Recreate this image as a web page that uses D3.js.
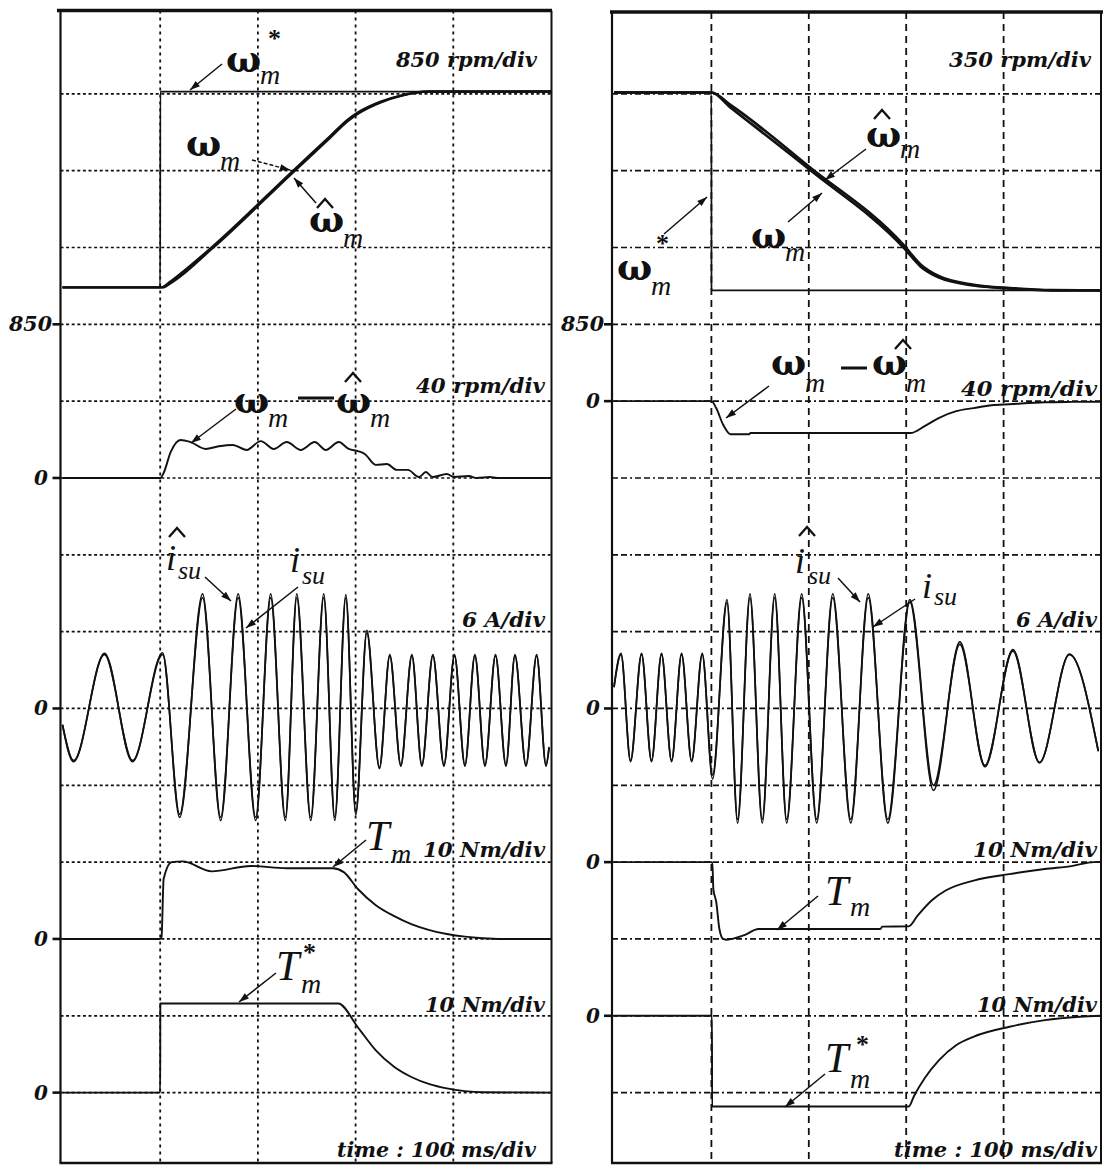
<!DOCTYPE html>
<html>
<head>
<meta charset="utf-8">
<title>Speed, speed error, stator current and torque responses</title>
<script src="https://cdn.jsdelivr.net/npm/d3@7/dist/d3.min.js"></script>
<style>
  html, body { margin: 0; padding: 0; background: #fff; }
  svg { display: block; }
  .scale-label, .tick-label { font-family: "DejaVu Serif", serif; font-weight: bold; font-style: italic; fill: #111; }
  .sym { font-family: "Liberation Serif", "Times New Roman", serif; font-style: italic; fill: #111; }
  .omega { font-family: "DejaVu Serif", serif; font-weight: bold; fill: #111; }
  .star { font-family: "Liberation Serif", serif; font-weight: bold; fill: #111; }
</style>
</head>
<body>
<svg id="fig" width="1103" height="1167" viewBox="0 0 1103 1167"></svg>
<script>
// ---------------------------------------------------------------
// Time base: 100 ms per division, five divisions per panel
// ---------------------------------------------------------------
const timeDomain = [0, 500];
const timeGrid = [100, 200, 300, 400];
const gridRows = [1, 2, 3, 4, 5, 6, 7, 8, 9, 10, 11, 12, 13, 14];

// Trace groups, top to bottom: speed, speed error, phase current, torque, torque command
const scaleLabelsL = ["850 rpm/div", "40 rpm/div", "6 A/div", "10 Nm/div", "10 Nm/div"];
const scaleLabelsR = ["350 rpm/div", "40 rpm/div", "6 A/div", "10 Nm/div", "10 Nm/div"];
const timeLabel = "time : 100 ms/div";
const perDivL = [850, 40, 6, 10, 10];
const perDivR = [350, 40, 6, 10, 10];
const refValues = [850, 0, 0, 0, 0];
const tickLabels = ["850", "0", "0", "0", "0"];
// grid row (divisions from the top edge) holding each reference level
const refRowsL = [4, 6, 9, 12, 14];
const refRowsR = [4, 5, 9, 11, 13];

// ---------------- Left panel: acceleration ----------------
// [time ms, rpm]
const speedRefL = [[0, 1259], [100, 1259], [100.1, 3425], [500, 3425]];
const speedL = [[0, 1259], [100, 1259], [102.5, 1262], [110.7, 1325], [152.7, 1701], [234.6, 2535],
  [274.6, 2938], [292, 3115], [302.3, 3193], [325.8, 3314], [346.3, 3380], [374.5, 3425], [500, 3425]];
const speedEstL = [[0, 1259], [100, 1259], [102.5, 1259], [110.7, 1306], [152.7, 1684], [234.6, 2518],
  [274.6, 2921], [292, 3098], [302.3, 3179], [325.8, 3306], [346.3, 3377], [374.5, 3424], [500, 3425]];
// [time ms, rpm]
const speedErrL = [[0, 0], [100, 0], [103.5, 2.6], [110.7, 13.5], [120.9, 19.8], [131.1, 18.7], [146.5, 15.1],
  [160, 16.5], [174.2, 17.2], [188.5, 14.6], [202.9, 19.2], [216.2, 15.1], [229.5, 18.7], [243.9, 14.6],
  [258.2, 18.7], [269.5, 14.6], [282.8, 18.7], [293, 15.1], [302.3, 14], [309.4, 12.5], [320.7, 6.8],
  [332, 7.3], [342.2, 4.2], [353.5, 4.2], [364.8, 0.5], [371.9, 3.1], [379, 0.5], [393.4, 2.1],
  [400.6, 0.5], [416, 1], [424, 0], [437.5, 0.5], [445, 0], [500, 0]];
// phase current extrema: times (ms) and amperes
const currentTimeL = [0, 11.3, 43.0, 71.7, 102.5, 119.9, 143.4, 161.9, 179.8, 197.7, 213.1, 228.1, 239.8,
  254.1, 267.4, 278.7, 290, 300.2, 311.5, 324.4, 335, 346.3, 357.6, 367.8, 379.1, 390.4, 401.2, 411.9,
  422.1, 432.4, 443.2, 453.9, 463.1, 474.4, 485.3, 494.9, 498];
const currentL = [-1.25, -4.06, 4.2, -4.06, 4.2, -8.27, 8.66, -8.5, 8.66, -8.5, 8.66, -8.5, 8.66, -8.5,
  8.66, -8.5, 8.66, -8.1, 5.9, -4.6, 4.1, -4.4, 4.1, -4.4, 4.1, -4.4, 4.1, -4.4, 4.1, -4.4, 4.1, -4.4,
  4.1, -4.4, 4.1, -4.4, -3.0];
const currentEstL = [-1.3, -4.15, 4.3, -4.15, 4.35, -8.5, 8.95, -8.75, 8.95, -8.75, 8.95, -8.75, 8.95,
  -8.75, 8.95, -8.75, 8.9, -8.3, 6.1, -4.7, 4.2, -4.5, 4.2, -4.5, 4.2, -4.5, 4.2, -4.5, 4.2, -4.5, 4.2,
  -4.5, 4.2, -4.5, 4.2, -4.5, -3.1];
// [time ms, Nm]
const torqueL = [[0, 0], [100, 0], [101.4, 0.3], [103.5, 7.8], [111.7, 10], [123, 10.1], [152.7, 8.8],
  [192.6, 9.5], [229.5, 9.2], [276.6, 9.2], [287.9, 8.7], [302.3, 6.5], [320.7, 4.4], [339.1, 3.0],
  [357.6, 1.9], [375.6, 1.15], [393.4, 0.65], [411.9, 0.3], [430, 0.1], [450, 0], [500, 0]];
const torqueRefL = [[0, 0], [100, 0], [100.1, 11.6], [282.3, 11.6], [302.3, 8.5], [320.7, 5.5],
  [339, 3.4], [357.6, 2.0], [375.6, 1.1], [393.4, 0.55], [411.9, 0.2], [430, 0.05], [500, 0]];

// ---------------- Right panel: deceleration ----------------
const speedRefR = [[0, 1906], [100, 1906], [100.1, 1005], [500, 1005]];
const speedR = [[0, 1906], [100, 1906], [119.5, 1838], [200.7, 1555], [297.3, 1200], [314.7, 1114],
  [333.2, 1064], [369.3, 1027], [405.9, 1014], [449.5, 1005], [500, 1005]];
const speedEstR = [[0, 1906], [100, 1906], [119.5, 1850], [200.7, 1567], [297.3, 1212], [314.7, 1123],
  [333.2, 1070], [369.3, 1030], [405.9, 1015], [449.5, 1006], [500, 1005]];
const speedErrR = [[0, 0], [100, 0], [104.9, -3.6], [112.1, -12.3], [119.5, -17.2], [139, -17.2],
  [140, -16.6], [304.3, -16.6], [319, -13], [333.3, -8.8], [351.4, -5.2], [369.3, -3.6], [387.8, -2.1],
  [405.9, -1.6], [442.2, -0.6], [470, -0.4], [500, -0.3]];
const currentTimeR = [0, 7.2, 17, 28.3, 38.5, 48.8, 59.1, 69.4, 79.7, 90.6, 101.2, 116, 126.9, 139.6,
  152.2, 165, 177.3, 192.7, 208.1, 224.6, 243.1, 261, 281.1, 303.7, 328, 355.1, 380.8, 409.6, 436.8,
  467.6, 497.2];
const currentR = [1.64, 4.2, -4.06, 4.2, -4.06, 4.2, -4.06, 4.2, -4.06, 4.2, -5.2, 8.27, -8.66, 8.66,
  -8.66, 8.66, -8.66, 8.66, -8.66, 8.66, -8.66, 8.66, -8.66, 8.5, -6.0, 5.0, -4.45, 4.5, -4.2, 4.2, -3.3];
const currentEstR = [1.7, 4.3, -4.15, 4.3, -4.15, 4.3, -4.15, 4.3, -4.15, 4.3, -5.5, 8.5, -8.95, 8.95,
  -8.95, 8.95, -8.95, 8.95, -8.95, 8.95, -8.95, 8.95, -8.95, 8.3, -6.4, 5.2, -4.55, 4.6, -4.25, 4.25, -3.35];
const torqueR = [[0, 0], [101, 0], [102, -3.5], [105, -5.2], [108.2, -8.7], [112.1, -10], [115.8, -10.1],
  [133.9, -9.5], [148.3, -8.7], [273.5, -8.7], [275.3, -8.4], [302.5, -8.36], [311.5, -7.0],
  [326.1, -5.0], [340.5, -3.7], [369.3, -2.4], [405.9, -1.56], [442.2, -0.9], [471, -0.48],
  [492.6, 0], [500, 0]];
const torqueRefR = [[0, 0], [100.6, 0], [100.7, -11.8], [302.7, -11.8], [307.8, -10.5], [319.1, -8.1],
  [333.5, -5.8], [351.6, -3.8], [369.5, -2.7], [406, -1.43], [442.4, -0.56], [478.4, -0.13], [500, 0]];

// ---------------------------------------------------------------
const INK = "#111";
const svg = d3.select("#fig");
svg.append("rect").attr("width", 1103).attr("height", 1167).attr("fill", "#fff");

svg.append("defs").append("marker")
  .attr("id", "arrowHead").attr("viewBox", "0 0 10 8").attr("refX", 10).attr("refY", 4)
  .attr("markerWidth", 11).attr("markerHeight", 8).attr("markerUnits", "userSpaceOnUse")
  .attr("orient", "auto")
  .append("path").attr("d", "M0,0.6L10,4L0,7.4Z").attr("fill", INK);

// shared vertical division grid (15 divisions)
const gridY = d3.scaleLinear().domain([0, 15]).range([17.0, 17.0 + 76.83 * 15]);

const panels = [
  {
    key: "L", range: [62.5, 551], frame: { l: 60.5, r: 551.5, t: 10.5, b: 1163, tl: 57, tr: 552 },
    rows: refRowsL, perDiv: perDivL, labels: scaleLabelsL,
    hDash: "3,2.6", vDash: "3,4",
    labelPos: [[537, 67, 141], [545, 393, 129], [545, 627, 83], [545, 857, 122], [545, 1012, 120]],
    timePos: [536, 1157, 199],
    tickEnd: [52, 48],
    traces: [
      { data: speedRefL, group: 0, w: 1.7 },
      { data: speedL, group: 0, w: 2.4 },
      { data: speedEstL, group: 0, w: 2.4 },
      { data: speedErrL, group: 1, w: 1.9 },
      { data: d3.zip(currentTimeL, currentL), group: 2, w: 1.7 },
      { data: d3.zip(currentTimeL, currentEstL), group: 2, w: 1.7 },
      { data: torqueL, group: 3, w: 1.9 },
      { data: torqueRefL, group: 4, w: 1.9 }
    ]
  },
  {
    key: "R", range: [614, 1101], frame: { l: 612, r: 1101, t: 12, b: 1163, tl: 610, tr: 1103 },
    rows: refRowsR, perDiv: perDivR, labels: scaleLabelsR,
    hDash: "6,3,6,3,2,3", vDash: "7,5",
    labelPos: [[1091, 67, 142], [1097, 396, 136], [1097, 627, 81], [1097, 857, 124], [1097, 1012, 120]],
    timePos: [1097, 1157, 203],
    tickEnd: [604, 600],
    traces: [
      { data: speedRefR, group: 0, w: 1.7 },
      { data: speedR, group: 0, w: 2.7 },
      { data: speedEstR, group: 0, w: 2.7 },
      { data: speedErrR, group: 1, w: 1.9 },
      { data: d3.zip(currentTimeR, currentR), group: 2, w: 1.7 },
      { data: d3.zip(currentTimeR, currentEstR), group: 2, w: 1.7 },
      { data: torqueR, group: 3, w: 1.9 },
      { data: torqueRefR, group: 4, w: 1.9 }
    ]
  }
];

function drawPanel(p) {
  const g = svg.append("g").attr("class", "panel-" + p.key);
  const x = d3.scaleLinear().domain(timeDomain).range(p.range);
  const ys = p.rows.map((row, i) => d3.scaleLinear()
    .domain([refValues[i], refValues[i] + p.perDiv[i]])
    .range([gridY(row), gridY(row - 1)]));

  // graticule
  g.append("g").selectAll("line").data(gridRows).join("line")
    .attr("x1", p.frame.l).attr("x2", p.frame.r)
    .attr("y1", d => gridY(d)).attr("y2", d => gridY(d))
    .attr("stroke", INK).attr("stroke-width", 1.7).attr("stroke-dasharray", p.hDash);
  g.append("g").selectAll("line").data(timeGrid).join("line")
    .attr("x1", d => x(d)).attr("x2", d => x(d))
    .attr("y1", p.frame.t).attr("y2", p.frame.b)
    .attr("stroke", INK).attr("stroke-width", 1.8).attr("stroke-dasharray", p.vDash);

  // traces
  p.traces.forEach(tr => {
    const y = ys[tr.group];
    const line = d3.line().x(d => x(d[0])).y(d => y(d[1])).curve(d3.curveMonotoneX);
    g.append("path").datum(tr.data).attr("d", line)
      .attr("fill", "none").attr("stroke", INK).attr("stroke-width", tr.w)
      .attr("stroke-linejoin", "round");
  });

  // frame
  const f = p.frame;
  g.append("line").attr("x1", f.tl).attr("x2", f.tr).attr("y1", f.t).attr("y2", f.t)
    .attr("stroke", INK).attr("stroke-width", 3.6);
  g.append("line").attr("x1", f.l).attr("x2", f.l).attr("y1", f.t).attr("y2", f.b)
    .attr("stroke", INK).attr("stroke-width", 2.2);
  g.append("line").attr("x1", f.r).attr("x2", f.r).attr("y1", f.t).attr("y2", f.b)
    .attr("stroke", INK).attr("stroke-width", 2);
  g.append("line").attr("x1", f.l - 1).attr("x2", f.r + 1).attr("y1", f.b).attr("y2", f.b)
    .attr("stroke", INK).attr("stroke-width", 2.6);

  // reference level ticks
  p.rows.forEach((row, i) => {
    const yy = ys[i](refValues[i]);
    g.append("line").attr("x1", f.l - 8).attr("x2", f.l).attr("y1", yy).attr("y2", yy)
      .attr("stroke", INK).attr("stroke-width", 2.6);
    const t = g.append("text").attr("class", "tick-label")
      .attr("x", i === 0 ? p.tickEnd[0] : p.tickEnd[1]).attr("y", yy + 7)
      .attr("text-anchor", "end").attr("font-size", 20).text(tickLabels[i]);
    if (i === 0) t.attr("textLength", 43).attr("lengthAdjust", "spacingAndGlyphs");
  });

  // division labels
  p.labels.forEach((lab, i) => {
    const [ex, by, w] = p.labelPos[i];
    g.append("text").attr("class", "scale-label")
      .attr("x", ex - w).attr("y", by).attr("font-size", 19.5)
      .attr("textLength", w).attr("lengthAdjust", "spacingAndGlyphs").text(lab);
  });
  const [tx, ty, tw] = p.timePos;
  g.append("text").attr("class", "scale-label")
    .attr("x", tx - tw).attr("y", ty).attr("font-size", 19.5)
    .attr("textLength", tw).attr("lengthAdjust", "spacingAndGlyphs").text(timeLabel);
}
panels.forEach(drawPanel);

// ---------------------------------------------------------------
// Trace annotations (symbols with arrows)
// ---------------------------------------------------------------
const ann = svg.append("g").attr("class", "annotations");

function arrow(x1, y1, x2, y2, dashed) {
  const l = ann.append("line").attr("x1", x1).attr("y1", y1).attr("x2", x2).attr("y2", y2)
    .attr("stroke", INK).attr("stroke-width", 1.5).attr("marker-end", "url(#arrowHead)");
  if (dashed) l.attr("stroke-dasharray", "4,2");
}
// one text element per symbol; each part is [string, class, size, x, y]
function symbol(parts) {
  const t = ann.append("text");
  parts.forEach(([s, cls, size, x, y]) => {
    t.append("tspan").attr("class", cls).attr("font-size", size).attr("x", x).attr("y", y).text(s);
  });
}
function hat(cx, top) {
  ann.append("path")
    .attr("d", d3.line()([[cx - 8, top + 9], [cx, top], [cx + 8, top + 9]]))
    .attr("fill", "none").attr("stroke", INK).attr("stroke-width", 2.3);
}
function minus(x1, x2, y) {
  ann.append("line").attr("x1", x1).attr("x2", x2).attr("y1", y).attr("y2", y)
    .attr("stroke", INK).attr("stroke-width", 3);
}
const OM = 37;   // omega glyph size
const SUB = 34;  // subscript offset after an omega

// left panel
symbol([["ω", "omega", OM, 226, 72], ["*", "star", 26, 268, 47], ["m", "sym", 28, 226 + SUB, 84]]);
arrow(222, 64, 190, 90);
symbol([["ω", "omega", OM, 186, 156], ["m", "sym", 28, 186 + SUB, 170]]);
arrow(252, 160, 290, 170, true);
symbol([["ω", "omega", OM, 309, 232], ["m", "sym", 28, 309 + SUB, 247]]); hat(325, 199);
arrow(316, 203, 294, 178);
symbol([["ω", "omega", OM, 234, 413], ["m", "sym", 28, 234 + SUB, 427]]);
minus(298, 334, 398);
symbol([["ω", "omega", OM, 336, 413], ["m", "sym", 28, 336 + SUB, 427]]); hat(353, 373);
arrow(236, 409, 191, 443);
symbol([["i", "sym", 36, 166, 570], ["su", "sym", 26, 178, 579]]); hat(177, 528);
arrow(205, 577, 231, 601);
symbol([["i", "sym", 36, 290, 572], ["su", "sym", 26, 302, 584]]);
arrow(298, 587, 246, 628);
symbol([["T", "sym", 42, 366, 850], ["m", "sym", 28, 391, 863]]);
arrow(366, 840, 333, 867);
symbol([["T", "sym", 42, 276, 980], ["*", "star", 26, 303, 961], ["m", "sym", 28, 301, 993]]);
arrow(276, 973, 239, 1002);

// right panel
symbol([["*", "star", 26, 656, 252], ["ω", "omega", OM, 617, 280], ["m", "sym", 28, 617 + SUB, 295]]);
arrow(664, 234, 707, 197);
symbol([["ω", "omega", OM, 866, 147], ["m", "sym", 28, 866 + SUB, 158]]); hat(882, 110);
arrow(866, 149, 825, 180);
symbol([["ω", "omega", OM, 751, 248], ["m", "sym", 28, 751 + SUB, 261]]);
arrow(788, 222, 822, 193);
symbol([["ω", "omega", OM, 771, 375], ["m", "sym", 28, 771 + SUB, 392]]);
minus(841, 867, 368);
symbol([["ω", "omega", OM, 872, 375], ["m", "sym", 28, 872 + SUB, 392]]); hat(903, 340);
arrow(769, 386, 726, 418);
symbol([["i", "sym", 36, 795, 573], ["su", "sym", 26, 808, 584]]); hat(807, 527);
arrow(838, 578, 860, 602);
symbol([["i", "sym", 36, 922, 598], ["su", "sym", 26, 934, 605]]);
arrow(915, 599, 873, 627);
symbol([["T", "sym", 42, 825, 905], ["m", "sym", 28, 850, 916]]);
arrow(818, 896, 777, 930);
symbol([["T", "sym", 42, 825, 1072], ["*", "star", 26, 856, 1053], ["m", "sym", 28, 850, 1088]]);
arrow(825, 1074, 785, 1107);
</script>
</body>
</html>
